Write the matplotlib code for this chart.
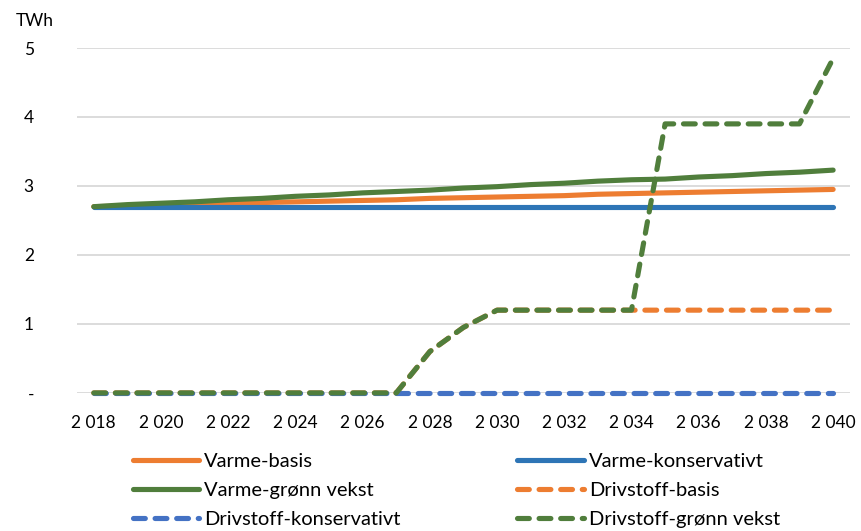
import matplotlib
matplotlib.use("Agg")
import matplotlib.pyplot as plt

years = list(range(2018, 2041))
varme_basis = [2.70, 2.71, 2.72, 2.73, 2.75, 2.76, 2.77, 2.78, 2.79, 2.80, 2.82, 2.83,
               2.84, 2.85, 2.86, 2.88, 2.89, 2.90, 2.91, 2.92, 2.93, 2.94, 2.95]
varme_konservativt = [2.70] * 23
varme_gronn = [2.70, 2.73, 2.75, 2.77, 2.80, 2.82, 2.85, 2.87, 2.90, 2.92, 2.94, 2.97,
               2.99, 3.02, 3.04, 3.07, 3.09, 3.10, 3.13, 3.15, 3.18, 3.20, 3.23]
drivstoff_basis = [0, 0, 0, 0, 0, 0, 0, 0, 0, 0, 0.60, 0.95,
                   1.20, 1.20, 1.20, 1.20, 1.20, 1.20, 1.20, 1.20, 1.20, 1.20, 1.20]
drivstoff_konservativt = [0] * 23
drivstoff_gronn = [0, 0, 0, 0, 0, 0, 0, 0, 0, 0, 0.60, 0.95,
                   1.20, 1.20, 1.20, 1.20, 1.20, 3.90, 3.90, 3.90, 3.90, 3.90, 4.85]
y_ticks = [0, 1, 2, 3, 4, 5]
y_labels = ["-", "1", "2", "3", "4", "5"]

ORANGE = "#ed7d31"
BLUE = "#2e75b6"
LBLUE = "#4472c4"
GREEN = "#507e3c"

plt.rcParams["font.family"] = ["Lato", "DejaVu Sans"]

fig = plt.figure(figsize=(8.62, 5.31), dpi=100)
ax = fig.add_axes([0.0893, 0.26, 0.8967, 0.6496])

x = list(range(len(years)))
lw = 3.7
dash = (2.3, 1.9)
series = [
    ("Varme-basis", varme_basis, ORANGE, "-"),
    ("Varme-konservativt", varme_konservativt, BLUE, "-"),
    ("Varme-grønn vekst", varme_gronn, GREEN, "-"),
    ("Drivstoff-basis", drivstoff_basis, ORANGE, "--"),
    ("Drivstoff-konservativt", drivstoff_konservativt, LBLUE, "--"),
    ("Drivstoff-grønn vekst", drivstoff_gronn, GREEN, "--"),
]
handles = []
for label, vals, col, ls in series:
    kw = dict(color=col, lw=lw, solid_capstyle="round", label=label, clip_on=False)
    if ls == "--":
        line, = ax.plot(x, vals, dashes=dash, dash_capstyle="round", **kw)
    else:
        line, = ax.plot(x, vals, **kw)
    handles.append(line)

ax.set_xlim(-0.5, len(years) - 0.5)
ax.set_ylim(0, 5)
ax.set_yticks(y_ticks)
ax.set_yticklabels(y_labels)
ax.set_xticks(x[::2])
ax.set_xticklabels([f"{y // 1000} {y % 1000:03d}" for y in years[::2]])
ax.tick_params(length=0, labelsize=12.5)
ax.tick_params(axis="y", pad=31)
ax.tick_params(axis="x", pad=16)
ax.grid(axis="y", color="#d9d9d9", lw=1.3)
ax.set_axisbelow(True)
for s in ax.spines.values():
    s.set_visible(False)

fig.text(0.018, 0.96, "TWh", fontsize=12.5, va="center", ha="left")

order = [0, 2, 4, 1, 3, 5]
leg = fig.legend([handles[i] for i in order], [series[i][0] for i in order],
                 ncol=2, loc="upper left", bbox_to_anchor=(0.154, 0.147),
                 frameon=False, fontsize=14.5, handlelength=3.3, handletextpad=0.25,
                 columnspacing=5.8, labelspacing=0.6, borderaxespad=0, borderpad=0)

fig.savefig("out.png", dpi=100)
